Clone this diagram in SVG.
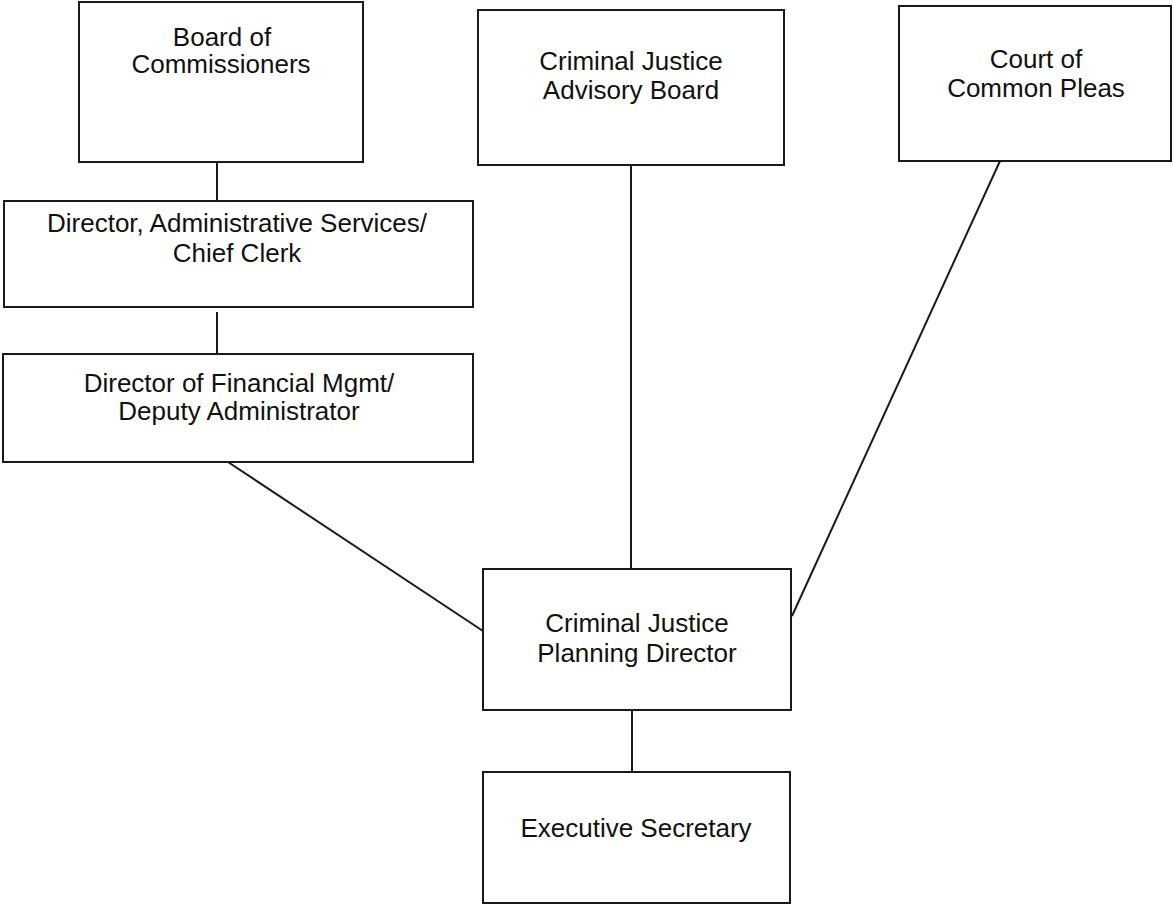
<svg xmlns="http://www.w3.org/2000/svg" width="1173" height="905" viewBox="0 0 1173 905">
<style>
.box{fill:#fff;stroke:#1a1a1a;stroke-width:2}
.ln{stroke:#1a1a1a;stroke-width:2;fill:none}
text{font-family:"Liberation Sans",Arial,sans-serif;font-size:26px;fill:#111;text-anchor:middle}
</style>
<rect width="1173" height="905" fill="#fff"/>
<g id="connectors">
<line class="ln" x1="217" y1="162" x2="217" y2="201"/>
<line class="ln" x1="217" y1="312" x2="217" y2="353"/>
<line class="ln" x1="228" y1="462" x2="483" y2="631"/>
<line class="ln" x1="631" y1="165" x2="631" y2="572"/>
<line class="ln" x1="1000" y1="161" x2="792" y2="616"/>
<line class="ln" x1="632" y1="710" x2="632" y2="771"/>
</g>
<g id="board">
<rect class="box" x="79" y="2" width="284" height="160"/>
<text x="222" y="46">Board of</text>
<text x="221" y="73">Commissioners</text>
</g>
<g id="cjab">
<rect class="box" x="478" y="10" width="306" height="155"/>
<text x="631" y="70">Criminal Justice</text>
<text x="631" y="99">Advisory Board</text>
</g>
<g id="court">
<rect class="box" x="899" y="6" width="272" height="155"/>
<text x="1036" y="68">Court of</text>
<text x="1036" y="97">Common Pleas</text>
</g>
<g id="admin">
<rect class="box" x="4" y="201" width="469" height="106"/>
<text x="237" y="232">Director, Administrative Services/</text>
<text x="237" y="262">Chief Clerk</text>
</g>
<g id="financial">
<rect class="box" x="3" y="354" width="470" height="108"/>
<text x="239" y="392">Director of Financial Mgmt/</text>
<text x="239" y="420">Deputy Administrator</text>
</g>
<g id="cjpd">
<rect class="box" x="483" y="569" width="308" height="141"/>
<text x="637" y="632">Criminal Justice</text>
<text x="637" y="662">Planning Director</text>
</g>
<g id="exec">
<rect class="box" x="483" y="772" width="307" height="131"/>
<text x="636" y="837">Executive Secretary</text>
</g>
</svg>
